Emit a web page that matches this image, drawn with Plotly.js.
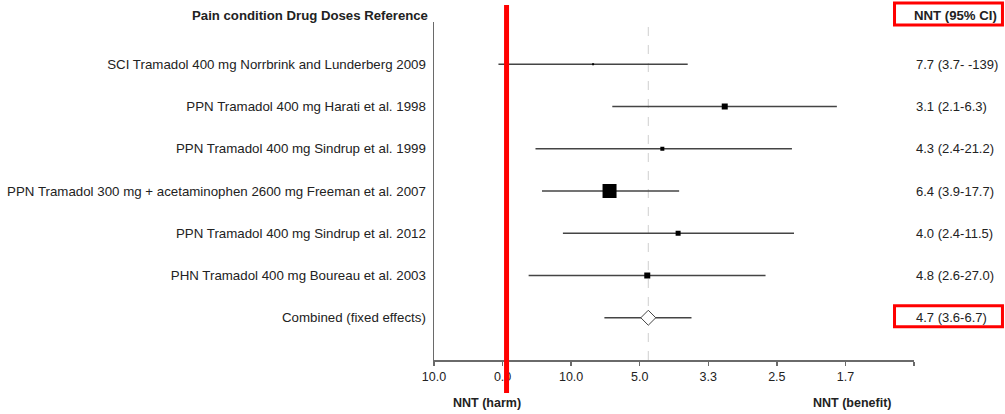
<!DOCTYPE html>
<html>
<head>
<meta charset="utf-8">
<script src="https://cdn.plot.ly/plotly-3.0.1.min.js"></script>
<style>html,body{margin:0;padding:0;background:#fff;}#chart{width:1005px;height:414px;}</style>
</head>
<body>
<div id="chart"></div>
<script>
// Study labels (top to bottom)
const studies = [
  "SCI Tramadol 400 mg Norrbrink and Lunderberg 2009",
  "PPN Tramadol 400 mg Harati et al. 1998",
  "PPN Tramadol 400 mg Sindrup et al. 1999",
  "PPN Tramadol 300 mg + acetaminophen 2600 mg Freeman et al. 2007",
  "PPN Tramadol 400 mg Sindrup et al. 2012",
  "PHN Tramadol 400 mg Boureau et al. 2003"
];
const combLabel = "Combined (fixed effects)";
// Effect (absolute risk difference; axis labelled as NNT = 1/effect)
const effect   = [0.132, 0.324, 0.233, 0.156, 0.256, 0.211];
const effectLo = [-0.006, 0.160, 0.048, 0.0575, 0.088, 0.038];
const effectHi = [0.270, 0.4875, 0.422, 0.2575, 0.425, 0.3835];
const weights  = [2, 6, 4, 14, 5, 6];
const combEffect = 0.2125, combLo = 0.1485, combHi = 0.2755;
// NNT (95% CI) text column
const ciText  = ["7.7 (3.7- -139)", "3.1 (2.1-6.3)", "4.3 (2.4-21.2)", "6.4 (3.9-17.7)", "4.0 (2.4-11.5)", "4.8 (2.6-27.0)"];
const combText = "4.7 (3.6-6.7)";
// x axis ticks
const tickVals = [-0.1, 0, 0.1, 0.2, 0.3, 0.4, 0.5, 0.6];
const tickText = ["10.0", "0.0", "10.0", "5.0", "3.3", "2.5", "1.7", ""];

const n = studies.length;
const rows = studies.map((_, i) => n + 1 - i); // 7..2
const combRow = 1;

const FONT = "Liberation Sans, Arial, sans-serif";
const TXT = "#222";
const LINE = "#444";
const AXIS = "#6a6a6a";

const traces = [
  {
    x: [combEffect, combEffect], y: [0, 8], mode: "lines", type: "scatter",
    line: {color: "#cfcfcf", width: 1, dash: "dash"}, hoverinfo: "skip", showlegend: false
  },
  {
    x: effect.concat([combEffect]), y: rows.concat([combRow]), type: "scatter", mode: "markers",
    marker: {size: 1, color: "rgba(0,0,0,0)"},
    error_x: {type: "data", symmetric: false,
      array: effectHi.map((v, i) => v - effect[i]).concat([combHi - combEffect]),
      arrayminus: effectLo.map((v, i) => effect[i] - v).concat([combEffect - combLo]),
      color: LINE, thickness: 1.3, width: 0},
    showlegend: false
  },
  {
    x: effect, y: rows, type: "scatter", mode: "markers",
    marker: {symbol: "square", size: weights, color: "#000", opacity: 1, line: {width: 0}},
    showlegend: false
  },
  {
    x: [combEffect], y: [combRow], type: "scatter", mode: "markers",
    marker: {symbol: "diamond", size: 11.5, color: "#fff", opacity: 1, line: {color: LINE, width: 1}},
    showlegend: false
  }
];

const annotations = [
  {xref: "paper", yref: "paper", x: -0.009, y: 1.02, xanchor: "right", yanchor: "middle",
   text: "<b>Pain condition Drug Doses Reference</b>", showarrow: false, font: {family: FONT, size: 13.2, color: TXT}},
  {xref: "x", yref: "paper", x: 0.6, xshift: -2, y: 1.02, xanchor: "left", yanchor: "middle",
   text: "<b>NNT (95% CI)</b>", showarrow: false, font: {family: FONT, size: 13.2, color: TXT}},
  {xref: "x", yref: "paper", x: -0.0233, y: -0.127, xanchor: "center", yanchor: "middle",
   text: "<b>NNT (harm)</b>", showarrow: false, font: {family: FONT, size: 12.5, color: TXT}},
  {xref: "x", yref: "paper", x: 0.5101, y: -0.127, xanchor: "center", yanchor: "middle",
   text: "<b>NNT (benefit)</b>", showarrow: false, font: {family: FONT, size: 12.5, color: TXT}}
];
ciText.forEach((t, i) => annotations.push({
  xref: "x", yref: "y", x: 0.6, y: rows[i], xanchor: "left", yanchor: "middle",
  text: t, showarrow: false, font: {family: FONT, size: 13, color: TXT}
}));
annotations.push({xref: "x", yref: "y", x: 0.6, y: combRow, xanchor: "left", yanchor: "middle",
  text: combText, showarrow: false, font: {family: FONT, size: 13, color: TXT}});

const shapes = [
  {type: "line", xref: "x", yref: "paper", x0: 0.0058, x1: 0.0058, y0: -0.098, y1: 1.0503,
   line: {color: "#ff0000", width: 5}},
  {type: "rect", xref: "paper", yref: "paper", x0: 0.9594, x1: 1.1843, y0: 0.9911, y1: 1.0562,
   line: {color: "#ff0000", width: 3}},
  {type: "rect", xref: "paper", yref: "paper", x0: 0.9594, x1: 1.1843, y0: 0.0985, y1: 0.1607,
   line: {color: "#ff0000", width: 3}}
];

const layout = {
  width: 1005, height: 414,
  margin: {l: 434, r: 91, t: 22, b: 54},
  paper_bgcolor: "#fff", plot_bgcolor: "#fff",
  font: {family: FONT, size: 13, color: TXT},
  showlegend: false,
  xaxis: {
    range: [-0.1, 0.6], tickvals: tickVals, ticktext: tickText,
    showline: true, linecolor: AXIS, linewidth: 1.5,
    ticks: "outside", ticklen: 4, tickcolor: AXIS, tickwidth: 1.5,
    showgrid: false, zeroline: false, fixedrange: true,
    tickfont: {family: FONT, size: 12.5, color: TXT}
  },
  yaxis: {
    range: [0, 8], tickvals: rows.concat([combRow]), ticktext: studies.concat([combLabel]),
    showline: true, linecolor: AXIS, linewidth: 1.5,
    ticks: "", ticklabelstandoff: 4,
    showgrid: false, zeroline: false, fixedrange: true,
    tickfont: {family: FONT, size: 13.3, color: TXT}
  },
  annotations: annotations,
  shapes: shapes
};

Plotly.newPlot("chart", traces, layout, {staticPlot: true, displayModeBar: false});
</script>
</body>
</html>
